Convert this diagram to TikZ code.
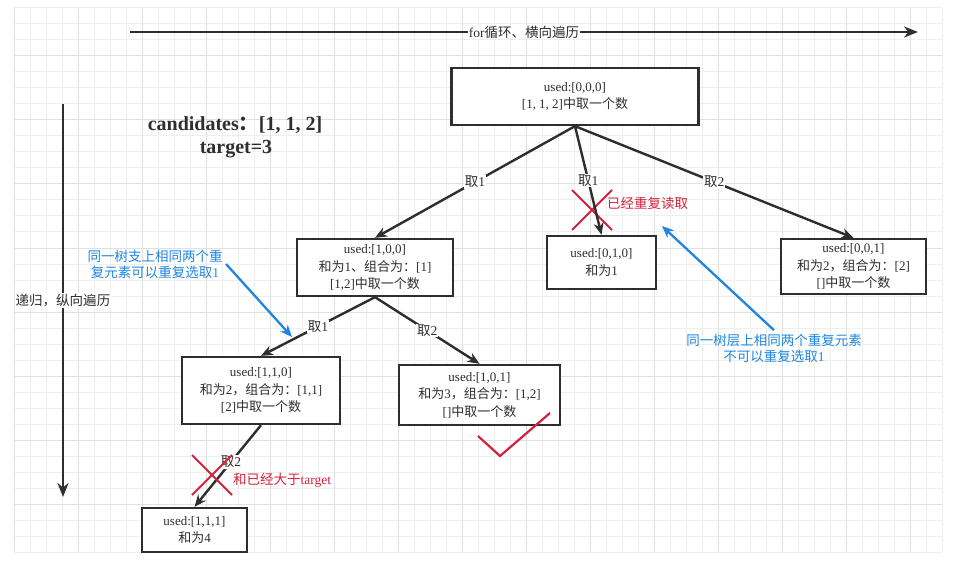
\documentclass[tikz,border=0pt]{standalone}
\usepackage{fontspec}
\setmainfont{Liberation Serif}
\newfontfamily\zhfont{Noto Sans CJK SC}
\newcommand{\zh}[1]{{\zhfont #1}}
\usetikzlibrary{arrows.meta}

\definecolor{inkgray}{HTML}{2E2E2E}
\definecolor{gridminor}{HTML}{EFEFEF}
\definecolor{gridmajor}{HTML}{E0E0E0}
\definecolor{markred}{HTML}{D4213D}
\definecolor{noteblue}{HTML}{1E86E0}

\tikzset{
  statebox/.style={draw=inkgray, line width=2.3pt, fill=white, text=inkgray,
    align=center, font=\fontsize{13}{17.5}\selectfont},
  edge/.style={draw=inkgray, line width=2.4pt, -{Stealth[length=12pt,width=10pt]}},
  takelabel/.style={fill=white, text=inkgray, inner sep=1pt,
    font=\fontsize{13.5}{15}\selectfont},
  axis/.style={draw=inkgray, line width=2.8pt, -{Stealth[length=14pt,width=11pt]}},
  axislabel/.style={fill=white, text=inkgray, inner sep=1pt,
    font=\fontsize{13.5}{15}\selectfont},
  note/.style={text=noteblue, align=center, font=\fontsize{13.5}{16}\selectfont},
  notearrow/.style={draw=noteblue, line width=2.3pt, -{Stealth[length=12pt,width=10pt]}},
  warn/.style={text=markred, inner sep=1pt, font=\fontsize{13.5}{15}\selectfont},
  cross/.style={draw=markred, line width=1.8pt},
  tickmark/.style={draw=markred, line width=2.2pt},
  gridline/.style={draw=gridminor, line width=1pt},
  gridbold/.style={draw=gridmajor, line width=1pt},
  title/.style={text=inkgray, font=\fontsize{20}{22}\selectfont\bfseries}
}

\begin{document}
\begin{tikzpicture}[x=1pt, y=-1pt]
  \useasboundingbox (0,0) rectangle (961,572);

  % background grid
  \foreach \gx in {14,30,...,942} \draw[gridline] (\gx,8) -- (\gx,552);
  \foreach \gy in {8,24,...,552} \draw[gridline] (14,\gy) -- (942,\gy);
  \foreach \gx in {14,78,...,910} \draw[gridbold] (\gx,8) -- (\gx,552);
  \foreach \gy in {56,120,...,504} \draw[gridbold] (14,\gy) -- (942,\gy);

  % directions
  \coordinate (loopstart) at (130,32);
  \coordinate (loopend) at (918,32);
  \draw[axis] (loopstart) -- node[axislabel] {for\zh{循环、横向遍历}} (loopend);
  \coordinate (recstart) at (63,104);
  \coordinate (recend) at (63,497);
  \draw[axis] (recstart) -- node[axislabel] {\zh{递归，纵向遍历}} (recend);

  \node[title] (cand) at (235,125) {candidates\zh{：}[1, 1, 2]};
  \node[title] (tgt) at (236,149) {target=3};

  % tree
  \node[statebox, minimum width=247pt, minimum height=57pt] (root) at (575,96.5)
    {used:[0,0,0]\\{}[1, 1, 2]\zh{中取一个数}};
  \node[statebox, minimum width=156pt, minimum height=57pt] (box100) at (375,267.5)
    {used:[1,0,0]\\\zh{和为}1\zh{、组合为：}[1]\\{}[1,2]\zh{中取一个数}};
  \node[statebox, minimum width=109pt, minimum height=53pt] (box010) at (601.5,262.5)
    {used:[0,1,0]\\\zh{和为}1};
  \node[statebox, minimum width=145pt, minimum height=55pt] (box001) at (853.5,266.5)
    {used:[0,0,1]\\\zh{和为}2\zh{，组合为：}[2]\\{}[]\zh{中取一个数}};
  \node[statebox, minimum width=158pt, minimum height=67pt] (box110) at (261,390.5)
    {used:[1,1,0]\\\zh{和为}2\zh{，组合为：}[1,1]\\{}[2]\zh{中取一个数}};
  \node[statebox, minimum width=161pt, minimum height=60pt] (box101) at (479.5,395)
    {used:[1,0,1]\\\zh{和为}3\zh{，组合为：}[1,2]\\{}[]\zh{中取一个数}};
  \node[statebox, minimum width=105pt, minimum height=44pt] (box111) at (194.5,530)
    {used:[1,1,1]\\\zh{和为}4};

  \coordinate (cross1) at (592,210);
  \draw[cross] (cross1) +(-20,-20) -- +(20,20) (cross1) +(-20,20) -- +(20,-20);

  \draw[edge] (root.south) -- node[takelabel] {\zh{取}1} (box100.north);
  \draw[edge] (root.south) -- node[takelabel] {\zh{取}1} (box010.north);
  \draw[edge] (root.south) -- node[takelabel] {\zh{取}2} (box001.north);
  \draw[edge] (box100.south) -- node[takelabel] {\zh{取}1} (box110.north);
  \draw[edge] (box100.south) -- node[takelabel] {\zh{取}2} (box101.north);
  \draw[edge] (box110.south) -- node[takelabel, pos=0.45] {\zh{取}2} (box111.north);

  \coordinate (cross2) at (212,475);
  \draw[cross] (cross2) +(-20,-20) -- +(20,20) (cross2) +(-20,20) -- +(20,-20);
  \node[warn, anchor=west] (warn1) at (606,203) {\zh{已经重复读取}};
  \node[warn, anchor=west] (warn2) at (232,480) {\zh{和已经大于}target};

  \coordinate (tick) at (500,456);
  \draw[tickmark] (tick) +(-22,-20) -- (tick) -- +(50,-43);

  % notes
  \node[note] (note1) at (155,264) {\zh{同一树支上相同两个重}\\\zh{复元素可以重复选取}1};
  \coordinate (hit1) at (292,337);
  \draw[notearrow] (note1.east) -- (hit1);
  \node[note] (note2) at (774,348) {\zh{同一树层上相同两个重复元素}\\\zh{不可以重复选取}1};
  \coordinate (hit2) at (662,226);
  \draw[notearrow] (note2.north) -- (hit2);
\end{tikzpicture}
\end{document}
